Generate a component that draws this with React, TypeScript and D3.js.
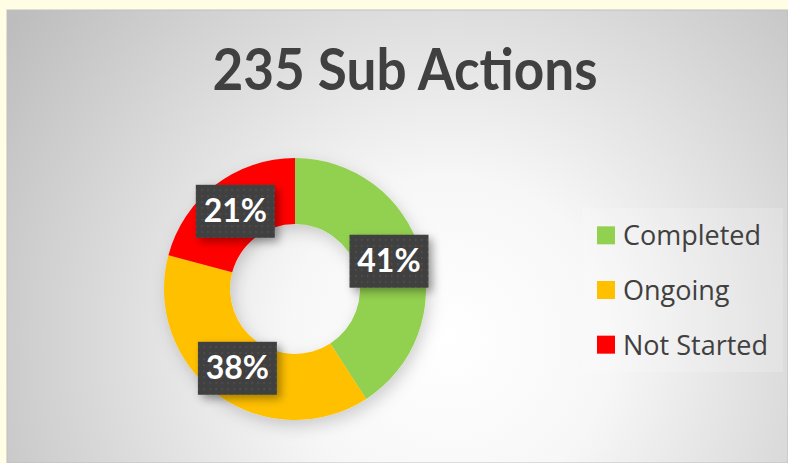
import React, { useRef, useEffect } from "react";
import * as d3 from "d3";

const categories = ["Completed", "Ongoing", "Not Started"];
const counts = [96, 90, 49];
const colors = ["#92d050", "#ffc000", "#ff0000"];
const title = "235 Sub Actions";

export default function App() {
  const ref = useRef<SVGSVGElement>(null);
  const width = 788;
  const height = 463;

  useEffect(() => {
    const svg = d3.select(ref.current);
    svg.selectAll("*").remove();

    const defs = svg.append("defs");
    const grad = defs.append("radialGradient")
      .attr("id", "bg")
      .attr("gradientUnits", "userSpaceOnUse")
      .attr("cx", 450).attr("cy", 340).attr("r", 540);
    grad.append("stop").attr("offset", 0).attr("stop-color", "#ffffff");
    grad.append("stop").attr("offset", 0.3).attr("stop-color", "#f7f7f7");
    grad.append("stop").attr("offset", 1).attr("stop-color", "#bdbdbd");

    const shadow = defs.append("filter").attr("id", "shadow")
      .attr("x", "-20%").attr("y", "-20%").attr("width", "150%").attr("height", "150%");
    shadow.append("feDropShadow")
      .attr("dx", 4).attr("dy", 4).attr("stdDeviation", 4)
      .attr("flood-color", "#000").attr("flood-opacity", 0.35);

    const ringShadow = defs.append("filter").attr("id", "ringShadow")
      .attr("x", "-20%").attr("y", "-20%").attr("width", "150%").attr("height", "150%");
    ringShadow.append("feDropShadow")
      .attr("dx", 3).attr("dy", 6).attr("stdDeviation", 8)
      .attr("flood-color", "#000").attr("flood-opacity", 0.18);

    const dots = defs.append("pattern").attr("id", "dots")
      .attr("patternUnits", "userSpaceOnUse").attr("width", 6).attr("height", 6);
    dots.append("rect").attr("width", 6).attr("height", 6).attr("fill", "#404040");
    dots.append("rect").attr("x", 2).attr("y", 2).attr("width", 1.5).attr("height", 1.5).attr("fill", "#555555");

    // page background
    svg.append("rect").attr("width", width).attr("height", height).attr("fill", "#fffde3");

    // chart area
    svg.append("rect")
      .attr("x", 7).attr("y", 10).attr("width", width - 7).attr("height", height - 10)
      .attr("fill", "url(#bg)").attr("stroke", "#bfbfbf").attr("stroke-width", 1);

    svg.append("text")
      .attr("x", 405).attr("y", 90)
      .attr("text-anchor", "middle")
      .attr("font-family", "Lato, 'Open Sans', sans-serif")
      .attr("font-weight", 700)
      .attr("font-size", 57)
      .attr("fill", "#404040")
      .attr("textLength", 385)
      .attr("lengthAdjust", "spacingAndGlyphs")
      .text(title);

    const total = d3.sum(counts);
    const data = categories.map((c, i) => ({ name: c, value: counts[i], color: colors[i] }));

    const pie = d3.pie<any>().value(d => d.value).sort(null);
    const arcs = pie(data);
    const arc = d3.arc<any>().innerRadius(65).outerRadius(131);

    const g = svg.append("g").attr("transform", "translate(295,289)");

    g.append("g").attr("filter", "url(#ringShadow)")
      .selectAll("path")
      .data(arcs)
      .join("path")
      .attr("d", arc)
      .attr("fill", d => d.data.color);

    const labels = g.selectAll("g.lbl")
      .data(arcs)
      .join("g")
      .attr("class", "lbl")
      .attr("transform", d => `translate(${arc.centroid(d)})`);

    labels.append("rect")
      .attr("x", -39.5).attr("y", -26.5).attr("width", 79).attr("height", 53)
      .attr("fill", "url(#dots)")
      .attr("filter", "url(#shadow)");

    labels.append("text")
      .attr("text-anchor", "middle")
      .attr("y", 11)
      .attr("font-family", "Lato, 'Open Sans', sans-serif")
      .attr("font-weight", 700)
      .attr("font-size", 32)
      .attr("fill", "#ffffff")
      .text(d => `${Math.round((d.data.value / total) * 100)}%`);

    // legend
    svg.append("rect")
      .attr("x", 583).attr("y", 208).attr("width", 200).attr("height", 164)
      .attr("fill", "#ffffff").attr("opacity", 0.18);

    const ly = d3.scaleBand().domain(categories).range([208, 372]);
    const leg = svg.append("g").selectAll("g")
      .data(data)
      .join("g")
      .attr("transform", d => `translate(597,${(ly(d.name) as number) + ly.bandwidth() / 2})`);
    leg.append("rect")
      .attr("x", 0).attr("y", -9).attr("width", 18).attr("height", 18)
      .attr("fill", d => d.color);
    leg.append("text")
      .attr("x", 26).attr("y", 10)
      .attr("font-family", "'Open Sans', sans-serif")
      .attr("font-size", 27)
      .attr("fill", "#404040")
      .text(d => d.name);
  }, []);

  return (
    <svg
      ref={ref}
      width={width}
      height={height}
      style={{ position: "absolute", left: 0, top: 0 }}
    ></svg>
  );
}
